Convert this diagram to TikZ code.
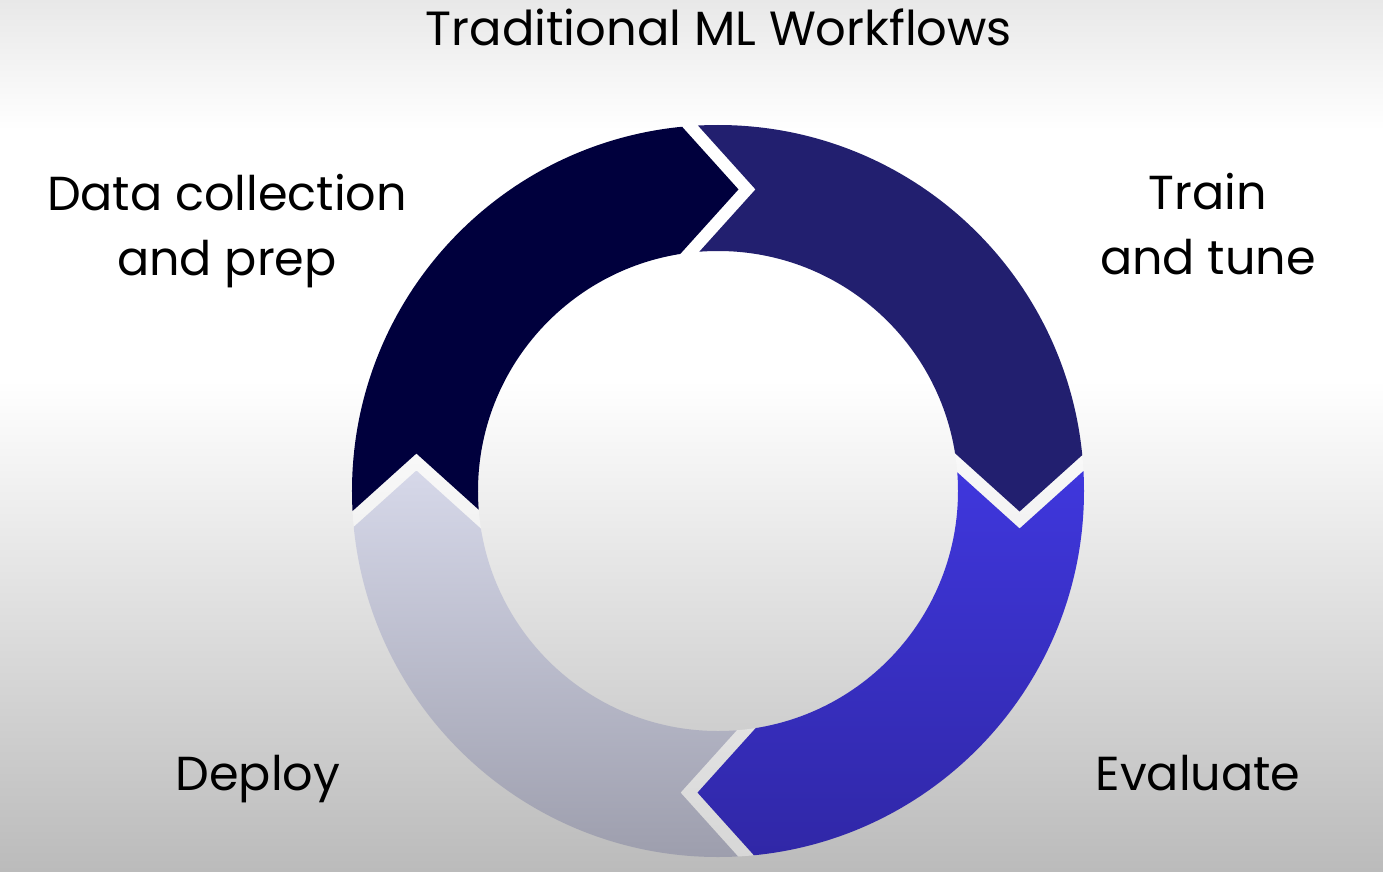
\documentclass[tikz,border=0pt]{standalone}
\usepackage{fontspec}
\setmainfont{Poppins}
\definecolor{datacol}{HTML}{00003D}
\definecolor{traincol}{HTML}{221F6F}
\definecolor{evaltop}{HTML}{3F37DD}
\definecolor{evalbot}{HTML}{3027A6}
\definecolor{deptop}{HTML}{D6D8E9}
\definecolor{depbot}{HTML}{9D9EAD}
\definecolor{bgtop}{HTML}{E8E8E8}
\definecolor{bgbot}{HTML}{BBBBBB}
\tikzset{
  label/.style={font=\fontsize{47.7}{65}\selectfont, align=center, anchor=base, inner sep=0pt, text=black},
  gapline/.style={draw=white, draw opacity=0.4, line width=16pt, line join=round}
}
\begin{document}
\begin{tikzpicture}[x=1pt,y=1pt]
\useasboundingbox (-718,-380) rectangle (665,491);
% background
\shade[top color=bgtop, bottom color=white] (-718,491) rectangle (665,361);
\fill[white] (-718,361.5) rectangle (665,110.5);
\shade[top color=white, bottom color=bgbot] (-718,111) rectangle (665,-380);
% chevron centre lines (for the light gap tint)
\coordinate (TO) at (-85,428.2); \coordinate (TT) at (29,301.6); \coordinate (TI) at (-85,175.2);
\coordinate (RO) at (428.2,85); \coordinate (RT) at (301.6,-29); \coordinate (RI) at (175.2,85);
\coordinate (BO) at (85,-428.2); \coordinate (BT) at (-29,-301.6); \coordinate (BI) at (85,-175.2);
\coordinate (LO) at (-428.2,-85); \coordinate (LT) at (-301.6,29); \coordinate (LI) at (-175.2,-85);
% shifted chevrons: m = tip side, p = notch side
\coordinate (TmO) at (-93.5,428.2); \coordinate (TmT) at (20.5,301.6); \coordinate (TmI) at (-93.5,175.2);
\coordinate (TpO) at (-76.5,428.2); \coordinate (TpT) at (37.5,301.6); \coordinate (TpI) at (-76.5,175.2);
\coordinate (RmO) at (428.2,93.5); \coordinate (RmT) at (301.6,-20.5); \coordinate (RmI) at (175.2,93.5);
\coordinate (RpO) at (428.2,76.5); \coordinate (RpT) at (301.6,-37.5); \coordinate (RpI) at (175.2,76.5);
\coordinate (BmO) at (93.5,-428.2); \coordinate (BmT) at (-20.5,-301.6); \coordinate (BmI) at (93.5,-175.2);
\coordinate (BpO) at (76.5,-428.2); \coordinate (BpT) at (-37.5,-301.6); \coordinate (BpI) at (76.5,-175.2);
\coordinate (LmO) at (-428.2,-93.5); \coordinate (LmT) at (-301.6,20.5); \coordinate (LmI) at (-175.2,-93.5);
\coordinate (LpO) at (-428.2,-76.5); \coordinate (LpT) at (-301.6,37.5); \coordinate (LpI) at (-175.2,-76.5);
\coordinate (C) at (0,0);
\begin{scope}
  \clip (366,0) arc[start angle=0, end angle=360, radius=366] -- (240,0)
        arc[start angle=360, end angle=0, radius=240] -- cycle;
  % light tint in the gaps
  \draw[gapline] (TO) -- (TT) -- (TI);
  \draw[gapline] (RO) -- (RT) -- (RI);
  \draw[gapline] (BO) -- (BT) -- (BI);
  \draw[gapline] (LO) -- (LT) -- (LI);
  % Data collection
  \begin{scope}
    \clip (LpO) -- (LpT) -- (LpI) -- (C) -- (TmI) -- (TmT) -- (TmO) -- (-700,700) -- cycle;
    \fill[datacol] (-400,-400) rectangle (400,400);
  \end{scope}
  % Train
  \begin{scope}
    \clip (TpO) -- (TpT) -- (TpI) -- (C) -- (RmI) -- (RmT) -- (RmO) -- (700,700) -- cycle;
    \fill[traincol] (-400,-400) rectangle (400,400);
  \end{scope}
  % Evaluate
  \begin{scope}
    \clip (RpO) -- (RpT) -- (RpI) -- (C) -- (BmI) -- (BmT) -- (BmO) -- (700,-700) -- cycle;
    \shade[top color=evaltop, bottom color=evalbot] (-60,20) rectangle (370,-367);
  \end{scope}
  % Deploy
  \begin{scope}
    \clip (BpO) -- (BpT) -- (BpI) -- (C) -- (LmI) -- (LmT) -- (LmO) -- (-700,-700) -- cycle;
    \shade[top color=deptop, bottom color=depbot] (-370,20) rectangle (60,-367);
  \end{scope}
\end{scope}
% texts
\node[label, font=\fontsize{48}{56}\selectfont] (title) at (1,445) {Traditional ML Workflows};
\node[label] (data) at (-491,216) {Data collection\\and prep};
\node[label] (train) at (490,217) {Train\\and tune};
\node[label] (deploy) at (-460,-299) {Deploy};
\node[label] (eval) at (480,-299) {Evaluate};
\end{tikzpicture}
\end{document}
